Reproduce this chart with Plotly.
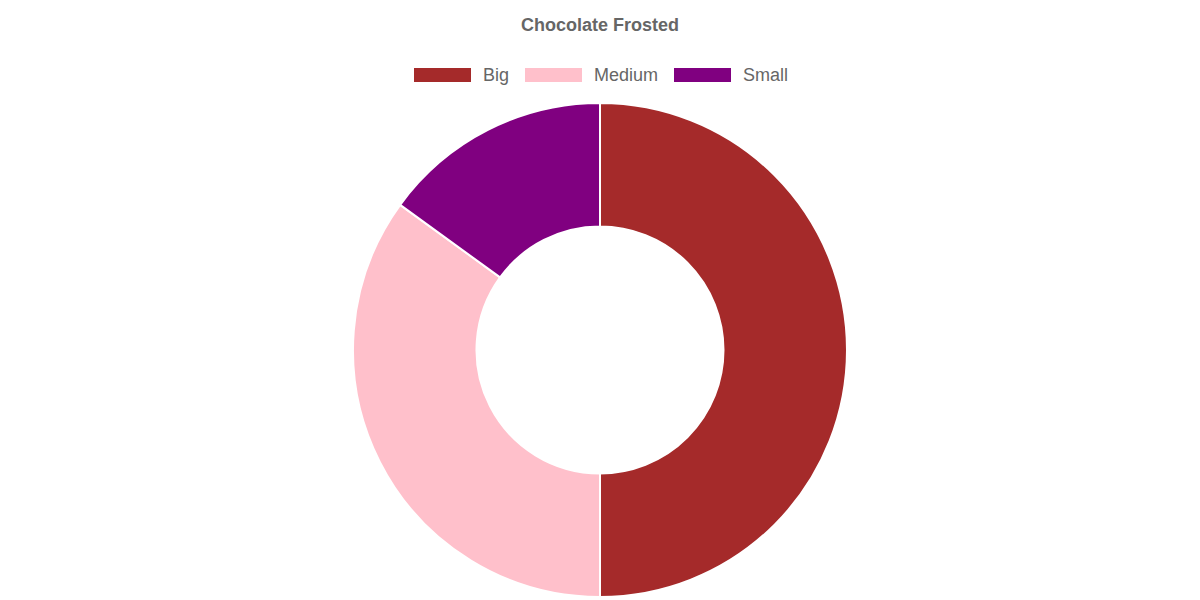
import plotly.graph_objects as go

title = "Chocolate Frosted"
categories = ["Big", "Medium", "Small"]
values = [50, 35, 15]
colors = ["#A52A2A", "#FFC0CB", "#800080"]

W, H = 1200, 600
OFF = 8  # page body margin

def px(x):
    return (x - OFF) / W

def py(y):
    return 1 - (y - OFF) / H

fig = go.Figure(go.Pie(
    labels=categories, values=values, sort=False, direction="clockwise",
    rotation=0, hole=0.5, textinfo="none", hoverinfo="label+value",
    marker=dict(colors=colors, line=dict(color="white", width=2)),
    domain=dict(x=[px(8), px(1192)], y=[py(597), py(103)]),
    showlegend=False,
))

# custom legend (Chart.js style wide boxes)
box_x = [414, 525, 674]
box_w, box_h = 57, 14
legend_y = 75
shapes, annotations = [], []
for i, (cat, col) in enumerate(zip(categories, colors)):
    x0 = box_x[i]
    shapes.append(dict(type="rect", xref="paper", yref="paper",
                       x0=px(x0), x1=px(x0 + box_w),
                       y0=py(legend_y + box_h / 2), y1=py(legend_y - box_h / 2),
                       fillcolor=col, line=dict(width=0)))
    annotations.append(dict(text=cat, xref="paper", yref="paper",
                            x=px(x0 + box_w + 10), y=py(legend_y),
                            xanchor="left", yanchor="middle", showarrow=False,
                            font=dict(family="Liberation Sans, Arial", size=18, color="#666666")))

annotations.append(dict(text="<b>" + title + "</b>", xref="paper", yref="paper",
                        x=px(600), y=py(25), xanchor="center", yanchor="middle",
                        showarrow=False,
                        font=dict(family="Liberation Sans, Arial", size=18, color="#666666")))

fig.update_layout(width=W, height=H, margin=dict(l=0, r=0, t=0, b=0),
                  paper_bgcolor="white", plot_bgcolor="white",
                  shapes=shapes, annotations=annotations)
fig.write_html("out.html")
